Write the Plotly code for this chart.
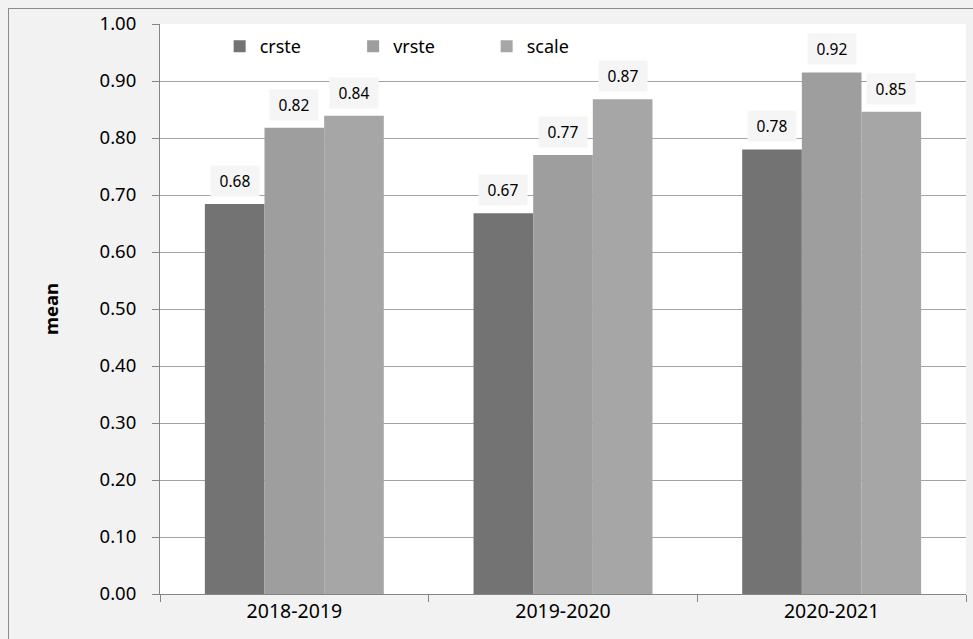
import plotly.graph_objects as go

categories = ["2018-2019", "2019-2020", "2020-2021"]
series_names = ["crste", "vrste", "scale"]
crste = [0.684, 0.668, 0.780]
vrste = [0.818, 0.770, 0.915]
scale = [0.839, 0.868, 0.846]
series_values = [crste, vrste, scale]
colors = ["#737373", "#9e9e9e", "#a6a6a6"]
y_ticks = [i / 10 for i in range(11)]
y_tick_labels = [f"{v:.2f}" for v in y_ticks]

W, H = 973, 639
ML, MR, MT, MB = 160, 7, 24, 45
PW, PH = W - ML - MR, H - MT - MB

FONT = "Noto Sans"

fig = go.Figure()
for name, vals, col in zip(series_names, series_values, colors):
    fig.add_trace(go.Bar(
        x=categories, y=vals, name=name,
        marker=dict(color=col, line=dict(width=0)),
    ))

bargap = 0.334
bw = (1 - bargap) / len(series_names)
annotations = []
for j, vals in enumerate(series_values):
    for i, v in enumerate(vals):
        annotations.append(dict(
            x=i + (j - (len(series_names) - 1) / 2) * bw, y=v,
            xref="x", yref="y", text=f"{v:.2f}", showarrow=False,
            yanchor="bottom", yshift=7, width=46, height=28,
            bgcolor="#f5f5f5", font=dict(family=FONT, size=15.5, color="#000000"),
        ))

def px_x(p):
    return (p - ML) / PW

def px_y(p):
    return 1 - (p - MT) / PH

shapes = [
    dict(type="rect", xref="paper", yref="paper", layer="below",
         x0=px_x(8), x1=px_x(W), y0=px_y(H), y1=px_y(8),
         fillcolor="#f2f2f2", line=dict(width=0)),
    dict(type="line", xref="paper", yref="paper", layer="below",
         x0=px_x(8), x1=px_x(W), y0=px_y(8.5), y1=px_y(8.5),
         line=dict(color="#8c8c8c", width=1)),
    dict(type="line", xref="paper", yref="paper", layer="below",
         x0=px_x(8.5), x1=px_x(8.5), y0=px_y(8), y1=px_y(H),
         line=dict(color="#8c8c8c", width=1)),
    dict(type="rect", xref="paper", yref="paper", layer="below",
         x0=0, x1=1, y0=0, y1=1, fillcolor="#ffffff", line=dict(width=0)),
]

fig.update_layout(
    width=W, height=H,
    margin=dict(l=ML, r=MR, t=MT, b=MB, pad=0),
    paper_bgcolor="#f2f2f2", plot_bgcolor="#ffffff",
    barmode="group", bargap=bargap, bargroupgap=0,
    font=dict(family=FONT, color="#000000"),
    showlegend=True,
    legend=dict(orientation="h", x=0.074, y=0.993, xanchor="left", yanchor="top",
                bgcolor="rgba(0,0,0,0)", font=dict(family=FONT, size=18),
                entrywidth=88.5, entrywidthmode="pixels", itemclick=False),
    xaxis=dict(type="category", showline=True, linecolor="#868686", linewidth=1,
               ticks="outside", ticklen=7, tickcolor="#868686", tickson="boundaries",
               tickfont=dict(family=FONT, size=19.5), showgrid=False),
    yaxis=dict(range=[0, 1], tickvals=y_ticks, ticktext=y_tick_labels,
               showline=True, linecolor="#868686", linewidth=1,
               ticks="outside", ticklen=7, tickcolor="#868686",
               ticklabelstandoff=12,
               tickfont=dict(family=FONT, size=18.5),
               showgrid=True, gridcolor="#a4a4a4", gridwidth=1, zeroline=False,
               title=dict(text="<b>mean</b>", font=dict(family=FONT, size=18.5), standoff=36)),
    shapes=shapes,
    annotations=annotations,
)

fig.write_html("out.html")
